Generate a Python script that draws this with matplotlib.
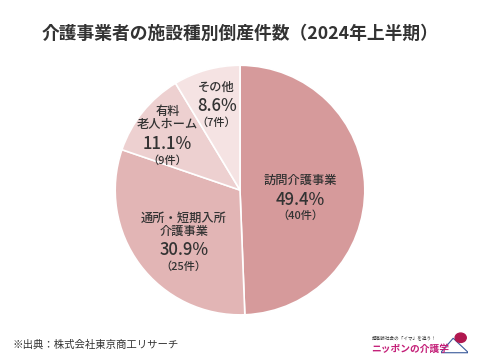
import matplotlib.pyplot as plt
import numpy as np
from matplotlib.patches import Polygon, Circle

plt.rcParams['font.family'] = ['Noto Sans CJK JP', 'DejaVu Sans']

# data
names = ['訪問介護事業', '通所・短期入所\n介護事業', '有料\n老人ホーム', 'その他']
counts = [40, 25, 9, 7]
pcts = ['49.4%', '30.9%', '11.1%', '8.6%']
colors = ['#d69a9b', '#e2b5b5', '#edd0d0', '#f5e3e3']
# label placement (radius fraction, angle in degrees)
lab_r = [0.49, 0.66, 0.69, 0.70]
lab_ang = [-9, -133, 147.5, 105.5]

txt = '#333333'

fig = plt.figure(figsize=(4.8, 3.6), dpi=100)
fig.patch.set_facecolor('white')

fig.text(0.5, 0.905, '介護事業者の施設種別倒産件数（2024年上半期）',
         ha='center', va='center', fontsize=12.8, fontweight='bold', color=txt)

ax = fig.add_axes([0.5 - 0.26, 0.472 - 0.347, 0.52, 0.694])
ax.pie(counts, colors=colors, startangle=90, counterclock=False,
       wedgeprops=dict(edgecolor='white', linewidth=1.2))
ax.set_xlim(-1, 1)
ax.set_ylim(-1, 1)
ax.set_aspect('equal')

for name, c, p, r, a in zip(names, counts, pcts, lab_r, lab_ang):
    x = r * np.cos(np.radians(a))
    y = r * np.sin(np.radians(a))
    ax.annotate(name, (x, y), xytext=(0, 9), textcoords='offset points',
                ha='center', va='bottom', fontsize=8.8, fontweight=500,
                color=txt, linespacing=1.0)
    ax.annotate(p, (x, y), xytext=(0, 0), textcoords='offset points',
                ha='center', va='center', fontsize=12, fontweight=500, color=txt)
    ax.annotate('（%d件）' % c, (x, y), xytext=(0, -8), textcoords='offset points',
                ha='center', va='top', fontsize=8, fontweight=500, color=txt)

fig.text(0.025, 0.043, '※出典：株式会社東京商工リサーチ', ha='left', va='center',
         fontsize=7.5, color=txt)

# logo
fig.text(0.775, 0.062, '超高齢社会の「イマ」を追う！', ha='left', va='center',
         fontsize=3.3, color='#333333')
fig.text(0.773, 0.032, 'ニッポンの介護学', ha='left', va='center',
         fontsize=7, fontweight='bold', color='#c41f78')
lax = fig.add_axes([0.918, 0.015, 0.058, 0.065])
lax.set_xlim(0, 1)
lax.set_ylim(0, 1)
lax.axis('off')
lax.add_patch(Polygon([[0.0, 0.08], [0.45, 0.7], [1.0, 0.08]], closed=True,
                      facecolor='white', edgecolor='#3a5a9a', linewidth=0.8))
lax.add_patch(Circle((0.72, 0.72), 0.2, color='#b0174f'))

plt.savefig('out.png', dpi=100)
